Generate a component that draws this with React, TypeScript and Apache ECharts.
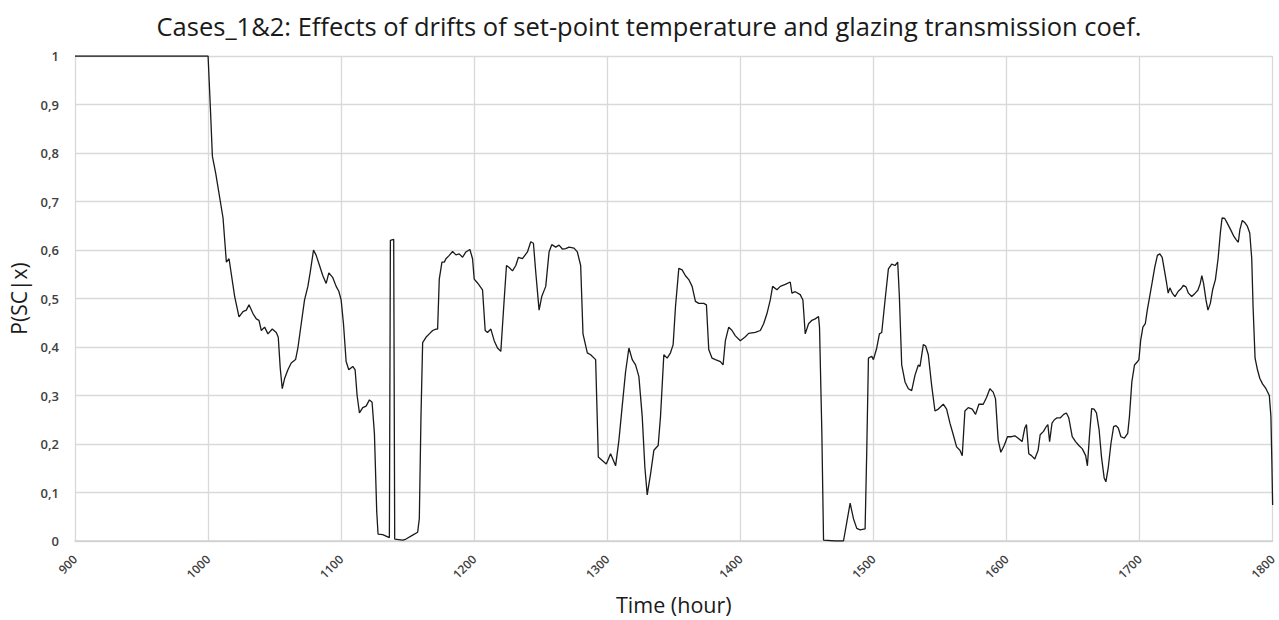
import React, { useEffect, useRef } from "react";
import * as echarts from "echarts";

const hours: number[] = [
  900, 1000, 1001.75, 1003.25, 1005.75, 1011.25, 1013.75, 1015.75, 1020, 1023.25, 1026.25, 1028.75, 1030.75,
  1033.75, 1036.25, 1038.25, 1040, 1042.5, 1045, 1048.25, 1051.25, 1052.75, 1054.25, 1055.75, 1057.5, 1060,
  1062.5, 1065.75, 1067.5, 1070, 1072.5, 1075, 1076.75, 1079.25, 1081.25, 1083.75, 1086.25, 1088.75, 1090.75,
  1093.75, 1096.25, 1098.25, 1100, 1101.75, 1103.75, 1105.75, 1108.75, 1110.5, 1112, 1113.75, 1116.25, 1118.75,
  1121.25, 1123.25, 1125, 1126.75, 1127.75, 1131.25, 1136.25, 1137, 1139.5, 1140.25, 1146.25, 1148.75, 1153.75,
  1157.5, 1158.75, 1160, 1161.25, 1163.75, 1166.25, 1168.75, 1171.25, 1172.5, 1173.75, 1175.75, 1177.5, 1178.75,
  1181.25, 1183.75, 1186.25, 1188.75, 1191.25, 1193.75, 1196.75, 1198.75, 1200, 1202.5, 1206.25, 1208.25, 1210,
  1212.5, 1215, 1217.5, 1220, 1222.5, 1224.25, 1226.25, 1228.75, 1231.25, 1233.25, 1236.25, 1240, 1242.5, 1244.5,
  1246.25, 1248.75, 1250.75, 1253.75, 1256.25, 1258.25, 1261.25, 1263.75, 1266.25, 1268.75, 1271.25, 1275,
  1277.5, 1280, 1281.75, 1285, 1287.5, 1291.25, 1293.25, 1296.25, 1299.25, 1302.5, 1306.25, 1308.75, 1311.25,
  1313.75, 1316.25, 1318.75, 1321.25, 1323.75, 1326.25, 1328.25, 1330, 1332.5, 1335, 1338.25, 1340, 1342.5, 1345,
  1347.5, 1349.5, 1351.25, 1353.75, 1356.25, 1358.75, 1361.25, 1363.75, 1366.25, 1368.75, 1372.5, 1374.5,
  1376.25, 1378.75, 1381.25, 1385, 1387, 1388.75, 1391.25, 1393.75, 1396.25, 1400, 1403.75, 1406.25, 1411.25,
  1415, 1417.5, 1420, 1422.5, 1424.25, 1427.5, 1430, 1433.75, 1437.5, 1438.75, 1441.25, 1445, 1447, 1448.75,
  1451.25, 1453.75, 1456.25, 1458.75, 1459.5, 1461.25, 1462.5, 1471.25, 1477.5, 1480, 1482.5, 1485, 1487.5, 1490,
  1493.75, 1495, 1496.25, 1498.75, 1500, 1502.5, 1504.5, 1506.25, 1508.75, 1511.25, 1513.75, 1516.25, 1518.25,
  1519.5, 1521.25, 1523.75, 1526.25, 1528.75, 1531.25, 1533.75, 1535, 1537.5, 1539.25, 1541.25, 1543.75, 1546.25,
  1548.75, 1552.5, 1555, 1557.5, 1560, 1562.5, 1565, 1566.75, 1568.75, 1571.25, 1574.25, 1576.75, 1579.25,
  1582.5, 1585, 1587.5, 1590, 1591.75, 1593.75, 1595.75, 1598.25, 1600.75, 1603.75, 1606.25, 1608.75, 1611.75,
  1613.75, 1615, 1616.75, 1618.75, 1621.25, 1623.75, 1625.3, 1627.8, 1629.9, 1631.1, 1632.4, 1634.2, 1636, 1638,
  1640.5, 1643, 1645, 1646.8, 1649.4, 1651.9, 1654.4, 1657, 1659.5, 1660.8, 1662.5, 1664, 1665.8, 1667.6, 1669.6,
  1671.4, 1673.4, 1674.7, 1676.5, 1678.5, 1680.5, 1682.3, 1684, 1686, 1688.6, 1691.1, 1692.4, 1694.2, 1696.2,
  1698.2, 1699.5, 1700.8, 1702.5, 1704.3, 1705.8, 1707.6, 1709.4, 1711.4, 1713.4, 1715.2, 1717, 1718.5, 1720.3,
  1721.5, 1722.8, 1724.6, 1726.6, 1729.1, 1731.1, 1732.9, 1734.9, 1736.7, 1739.2, 1741.8, 1743.8, 1745.6, 1746.8,
  1748.1, 1749.9, 1751.4, 1753.2, 1754.9, 1757, 1759, 1760.8, 1762, 1764, 1765.8, 1768.4, 1770.9, 1772.7, 1774.2,
  1775.4, 1777.2, 1779.2, 1781, 1782.8, 1784.3, 1785.3, 1786.8, 1788.6, 1790.4, 1792.4, 1795, 1797.5, 1798.7,
  1799.4, 1800,
];

const probability: number[] = [
  1, 1, 0.892, 0.793, 0.758, 0.666, 0.575, 0.582, 0.504, 0.462, 0.473, 0.476, 0.487,
  0.469, 0.458, 0.455, 0.434, 0.441, 0.427, 0.437, 0.43, 0.42, 0.356, 0.314, 0.335, 0.353,
  0.367, 0.374, 0.398, 0.448, 0.497, 0.525, 0.554, 0.6, 0.589, 0.568, 0.547, 0.531, 0.553,
  0.543, 0.525, 0.515, 0.497, 0.448, 0.37, 0.353, 0.36, 0.353, 0.3, 0.264, 0.275, 0.278,
  0.291, 0.286, 0.222, 0.06, 0.014, 0.013, 0.007, 0.62, 0.622, 0.004, 0.002, 0.004, 0.012,
  0.018, 0.046, 0.257, 0.409, 0.42, 0.427, 0.434, 0.437, 0.437, 0.54, 0.575, 0.575, 0.582,
  0.589, 0.597, 0.59, 0.592, 0.585, 0.596, 0.601, 0.582, 0.54, 0.532, 0.518, 0.434, 0.43,
  0.437, 0.413, 0.398, 0.391, 0.497, 0.568, 0.564, 0.557, 0.568, 0.585, 0.582, 0.596, 0.617, 0.614,
  0.554, 0.476, 0.504, 0.525, 0.596, 0.611, 0.606, 0.61, 0.602, 0.603, 0.606, 0.604,
  0.596, 0.568, 0.427, 0.388, 0.384, 0.374, 0.173, 0.166, 0.159, 0.18, 0.155, 0.208, 0.279,
  0.349, 0.398, 0.374, 0.363, 0.339, 0.257, 0.152, 0.095, 0.138, 0.187, 0.197, 0.257, 0.384, 0.377,
  0.388, 0.405, 0.483, 0.562, 0.559, 0.547, 0.539, 0.525, 0.494, 0.49, 0.49, 0.487,
  0.395, 0.377, 0.374, 0.37, 0.363, 0.413, 0.441, 0.434, 0.423, 0.413, 0.421, 0.428, 0.43,
  0.434, 0.448, 0.469, 0.497, 0.525, 0.518, 0.525, 0.529, 0.534, 0.511, 0.514, 0.508, 0.497, 0.427,
  0.448, 0.455, 0.458, 0.463, 0.44, 0.222, 0.002, 0, 0, 0.039, 0.078, 0.046, 0.026, 0.023,
  0.025, 0.187, 0.377, 0.381, 0.374, 0.398, 0.427, 0.43, 0.497, 0.561, 0.571, 0.568, 0.575,
  0.504, 0.363, 0.328, 0.314, 0.31, 0.342, 0.363, 0.36, 0.405, 0.402, 0.384, 0.321, 0.268,
  0.272, 0.282, 0.272, 0.243, 0.219, 0.194, 0.187, 0.176, 0.268, 0.275, 0.272, 0.261, 0.282,
  0.282, 0.296, 0.314, 0.307, 0.293, 0.208, 0.183, 0.197, 0.215, 0.215, 0.217, 0.212, 0.205,
  0.233, 0.24, 0.18, 0.176, 0.169, 0.187, 0.219, 0.226, 0.236, 0.24, 0.205, 0.243, 0.25, 0.254,
  0.254, 0.261, 0.264, 0.254, 0.215, 0.205, 0.197, 0.19, 0.176, 0.155, 0.222, 0.273, 0.272, 0.264, 0.229,
  0.173, 0.13, 0.122, 0.152, 0.201, 0.236, 0.238, 0.233, 0.215, 0.212, 0.222, 0.257, 0.328, 0.363,
  0.369, 0.374, 0.413, 0.441, 0.448, 0.476, 0.504, 0.532, 0.564, 0.589, 0.592, 0.585, 0.561, 0.532,
  0.511, 0.522, 0.511, 0.504, 0.515, 0.52, 0.527, 0.524, 0.511, 0.504, 0.511, 0.517, 0.531, 0.547,
  0.531, 0.497, 0.476, 0.49, 0.518, 0.539, 0.582, 0.638, 0.666, 0.665, 0.656, 0.642, 0.628, 0.621, 0.616,
  0.642, 0.661, 0.656, 0.649, 0.635, 0.582, 0.483, 0.377, 0.353, 0.335, 0.324, 0.314, 0.3, 0.257,
  0.166, 0.074,
];

const titleText = "Cases_1&2: Effects of drifts of set-point temperature and glazing transmission coef.";
const xAxisName = "Time (hour)";
const yAxisName = "P(SC|x)";

export default function App() {
  const ref = useRef<HTMLDivElement>(null);
  useEffect(() => {
    if (!ref.current) return;
    const chart = echarts.init(ref.current, undefined, { renderer: "svg" });
    const data = hours.map((h, i) => [h, probability[i]]);
    const font = "'Open Sans', 'Noto Sans', sans-serif";
    chart.setOption({
      animation: false,
      backgroundColor: "#ffffff",
      title: {
        text: titleText,
        left: 644,
        textAlign: "center",
        top: 8,
        textStyle: { fontFamily: font, fontSize: 25.5, fontWeight: "normal", color: "#1a1a1a" },
      },
      grid: { left: 75, right: 5, top: 56, bottom: 76, containLabel: false },
      xAxis: {
        type: "value",
        min: 900,
        max: 1800,
        interval: 100,
        name: xAxisName,
        nameLocation: "middle",
        nameGap: 52,
        nameTextStyle: { fontFamily: font, fontSize: 21.5, color: "#1a1a1a" },
        axisLine: { show: true, lineStyle: { color: "#d0d0d0", width: 1.5 } },
        axisTick: { show: false },
        axisLabel: {
          rotate: 45,
          fontFamily: font,
          fontSize: 12,
          fontWeight: 600,
          color: "#404040",
          margin: 16,
          formatter: (v: number) => String(v),
        },
        splitLine: { show: true, lineStyle: { color: "#d9d9d9", width: 1.3 } },
      },
      yAxis: {
        type: "value",
        min: 0,
        max: 1,
        interval: 0.1,
        name: yAxisName,
        nameLocation: "middle",
        nameGap: 42,
        nameRotate: 90,
        nameTextStyle: { fontFamily: font, fontSize: 21, color: "#1a1a1a" },
        axisLine: { show: false },
        axisTick: { show: false },
        axisLabel: {
          fontFamily: font,
          fontSize: 13,
          fontWeight: 600,
          color: "#404040",
          margin: 16,
          formatter: (v: number) => (Math.round(v * 10) / 10).toString().replace(".", ","),
        },
        splitLine: { show: true, lineStyle: { color: "#d9d9d9", width: 1.3 } },
      },
      series: [
        {
          type: "line",
          data,
          showSymbol: false,
          symbol: "none",
          lineStyle: { color: "#1a1a1a", width: 1.3 },
        },
      ],
    });
    return () => chart.dispose();
  }, []);
  return (
    <div
      ref={ref}
      style={{ position: "absolute", left: 0, top: 0, width: 1279, height: 620 }}
    />
  );
}
